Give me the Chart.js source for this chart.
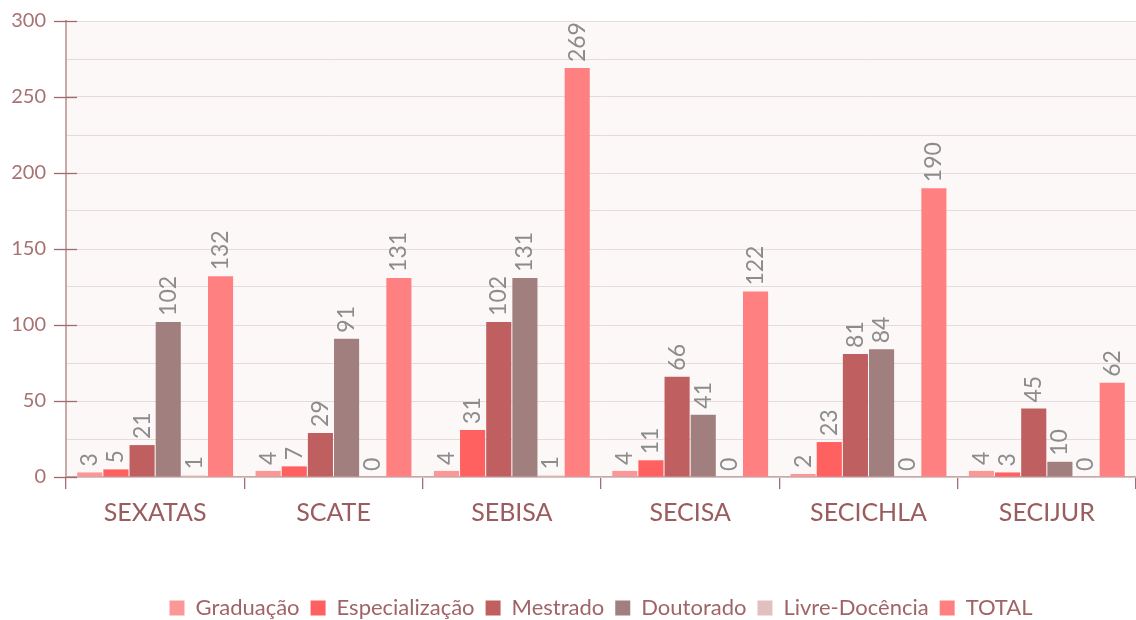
<!DOCTYPE html>
<html>
<head>
<meta charset="utf-8">
<script src="https://cdn.jsdelivr.net/npm/chart.js@4/dist/chart.umd.min.js"></script>
<style>
  html, body { margin: 0; padding: 0; background: #fff; }
  #wrap { width: 1136px; height: 620px; }
</style>
</head>
<body>
<div id="wrap"><canvas id="myChart" width="1136" height="620"></canvas></div>
<script>
// categories and series
const categories = ['SEXATAS', 'SCATE', 'SEBISA', 'SECISA', 'SECICHLA', 'SECIJUR'];
const graduacao = [3, 4, 4, 4, 2, 4];
const especializacao = [5, 7, 31, 11, 23, 3];
const mestrado = [21, 29, 102, 66, 81, 45];
const doutorado = [102, 91, 131, 41, 84, 10];
const livreDocencia = [1, 0, 1, 0, 0, 0];
const total = [132, 131, 269, 122, 190, 62];

const FONT = 'Lato, "Open Sans", sans-serif';

// pale plot background
const plotBg = {
    id: 'plotBg',
    beforeDraw(chart) {
        const { ctx, chartArea: a } = chart;
        ctx.save();
        ctx.fillStyle = '#fdf8f8';
        ctx.fillRect(a.left, a.top, a.right - a.left, a.bottom - a.top);
        ctx.restore();
    }
};

// major y ticks that cross the axis
const yTicks = {
    id: 'yTicks',
    afterDraw(chart) {
        const { ctx } = chart;
        const y = chart.scales.y;
        ctx.save();
        ctx.strokeStyle = '#a06a6a';
        ctx.lineWidth = 1.3;
        y.ticks.forEach(t => {
            if (t.value % 50 !== 0) return;
            const py = Math.round(y.getPixelForValue(t.value)) + 0.5;
            ctx.beginPath();
            ctx.moveTo(y.right - 12, py);
            ctx.lineTo(y.right + 11, py);
            ctx.stroke();
        });
        ctx.restore();
    }
};

// rotated value labels above the bars
const valueLabels = {
    id: 'valueLabels',
    afterDatasetsDraw(chart) {
        const { ctx } = chart;
        ctx.save();
        ctx.fillStyle = '#8c8c8c';
        ctx.font = '23px ' + FONT;
        ctx.textAlign = 'left';
        ctx.textBaseline = 'middle';
        chart.data.datasets.forEach((ds, i) => {
            const meta = chart.getDatasetMeta(i);
            meta.data.forEach((bar, j) => {
                ctx.save();
                ctx.translate(bar.x, bar.y - 6);
                ctx.rotate(-Math.PI / 2);
                ctx.fillText(String(ds.data[j]), 0, 0);
                ctx.restore();
            });
        });
        ctx.restore();
    }
};

const ctx = document.getElementById('myChart');
const myChart = new Chart(ctx, {
    type: 'bar',
    data: {
        labels: categories,
        datasets: [
            { label: 'Graduação', data: graduacao, backgroundColor: '#fb9797' },
            { label: 'Especialização', data: especializacao, backgroundColor: '#ff6060' },
            { label: 'Mestrado', data: mestrado, backgroundColor: '#c05f60' },
            { label: 'Doutorado', data: doutorado, backgroundColor: '#a27f7f' },
            { label: 'Livre-Docência', data: livreDocencia, backgroundColor: '#e2c0c0' },
            { label: 'TOTAL', data: total, backgroundColor: '#ff8080' }
        ]
    },
    options: {
        responsive: false,
        animation: false,
        devicePixelRatio: 1,
        layout: { padding: { top: 0, right: 0, left: 0, bottom: -9 } },
        datasets: {
            bar: { categoryPercentage: 0.88, barPercentage: 0.96 }
        },
        scales: {
            x: {
                afterFit(scale) { scale.height += 49; },
                grid: {
                    offset: true,
                    drawOnChartArea: false,
                    tickLength: 12,
                    color: '#a07070',
                    lineWidth: 1.3
                },
                border: { color: '#c8a8a8', width: 1.5 },
                ticks: {
                    color: '#9a5c5e',
                    font: { family: FONT, size: 25 },
                    padding: 9
                }
            },
            y: {
                min: 0,
                max: 300,
                afterFit(scale) {
                    scale.width = 66;
                    scale.paddingTop = 21;
                },
                grid: { color: '#e6dada', drawTicks: false },
                border: { color: '#c8a8a8', width: 2 },
                ticks: {
                    stepSize: 25,
                    padding: 20,
                    color: '#a87272',
                    font: { family: FONT, size: 20 },
                    callback: v => (v % 50 === 0 ? v : '')
                }
            }
        },
        plugins: {
            legend: {
                position: 'bottom',
                fullSize: false,
                labels: {
                    boxWidth: 15,
                    boxHeight: 15,
                    padding: 11,
                    color: '#a06466',
                    font: { family: FONT, size: 22 }
                }
            },
            tooltip: { enabled: false }
        }
    },
    plugins: [plotBg, yTicks, valueLabels]
});
</script>
</body>
</html>
